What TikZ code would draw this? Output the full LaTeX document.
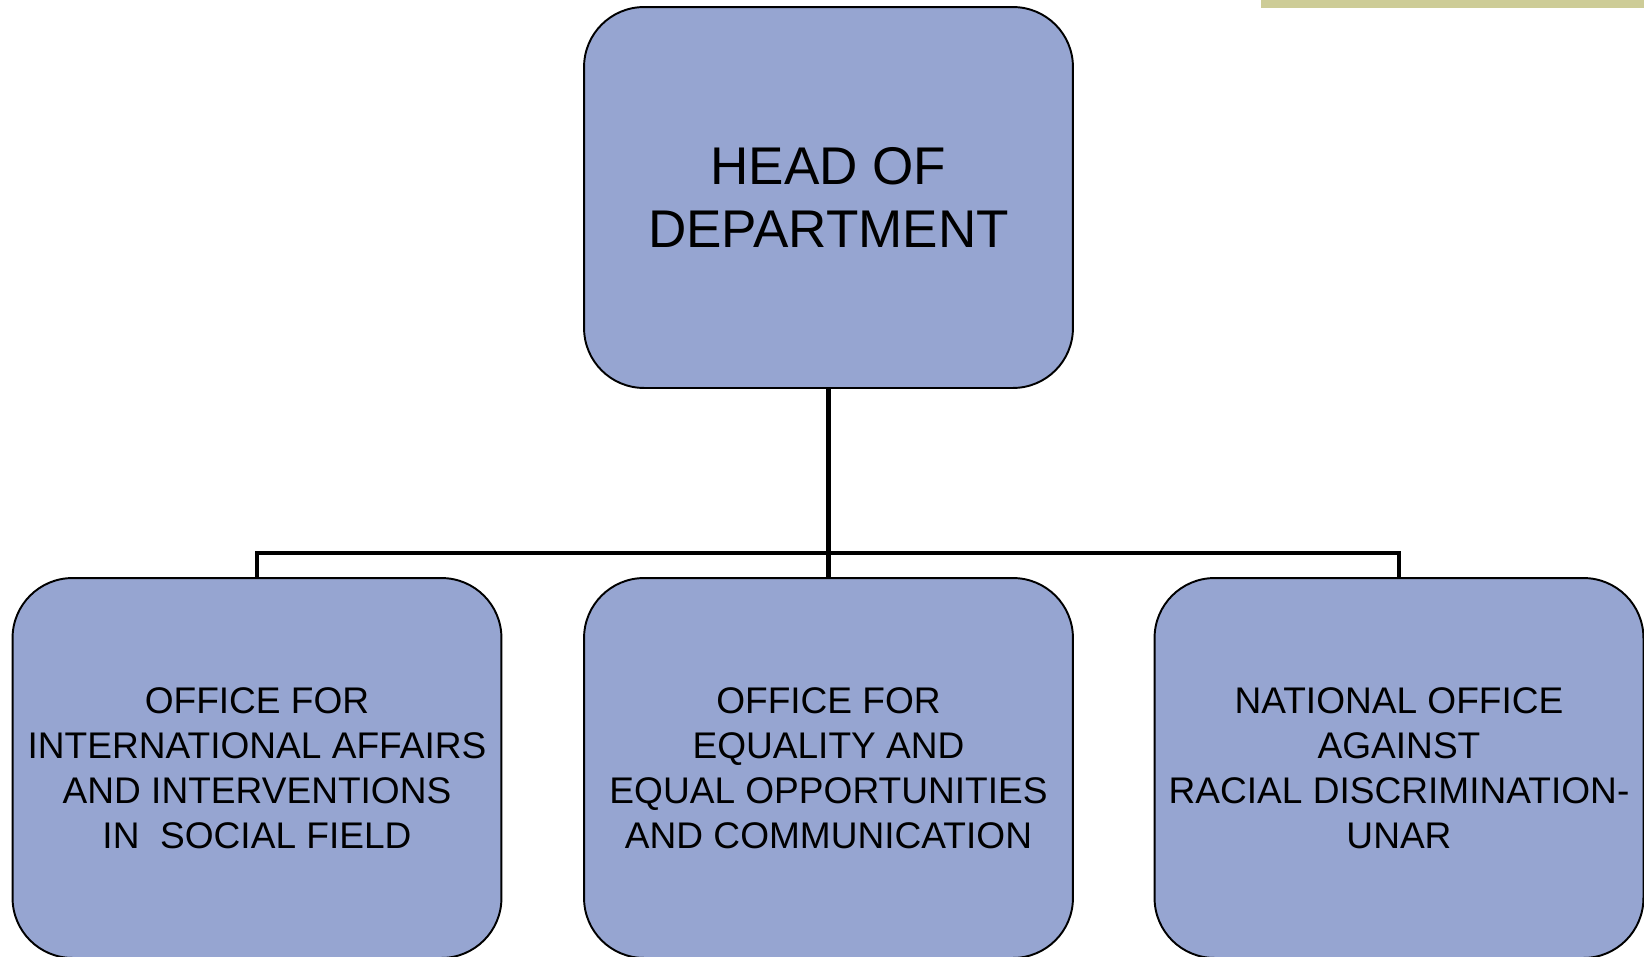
\documentclass[tikz,border=0pt]{standalone}
\usepackage{fontspec}
\setmainfont{Liberation Sans}
\usepackage{tikz}

\definecolor{boxblue}{RGB}{150,165,209}
\definecolor{barolive}{RGB}{205,204,151}

\tikzset{
  unit/.style={draw=black, line width=1.1pt, fill=boxblue, rounded corners=1.2cm,
    minimum width=9.78cm, align=center, inner sep=0pt},
  headbox/.style={unit, minimum height=7.62cm,
    font=\fontsize{30.2}{35.9}\selectfont},
  officebox/.style={unit, minimum height=7.6cm,
    font=\fontsize{21.1}{25.6}\selectfont},
  link/.style={draw=black, line width=2.3pt}
}

\begin{document}
\begin{tikzpicture}[x=0.02cm,y=-0.02cm]
  \useasboundingbox (0,0) rectangle (1644,957);
  \fill[barolive] (1261,0) rectangle (1644,8);

  \node[headbox] (head) at (828.5,197.5) {HEAD OF\\DEPARTMENT};

  \node[officebox] (intl) at (257,768) {OFFICE FOR\\INTERNATIONAL AFFAIRS\\AND INTERVENTIONS\\IN\ \ SOCIAL FIELD};
  \node[officebox] (equal) at (828.5,768) {OFFICE FOR\\EQUALITY AND\\EQUAL OPPORTUNITIES\\AND COMMUNICATION};
  \node[officebox] (unar) at (1399,768) {NATIONAL OFFICE\\AGAINST\\RACIAL DISCRIMINATION-\\UNAR};

  \coordinate (bus) at (828.5,553);
  \draw[link] (head.south) -- (equal.north);
  \draw[link] (intl.north) -- (intl.north |- bus) -- (unar.north |- bus) -- (unar.north);
\end{tikzpicture}
\end{document}
